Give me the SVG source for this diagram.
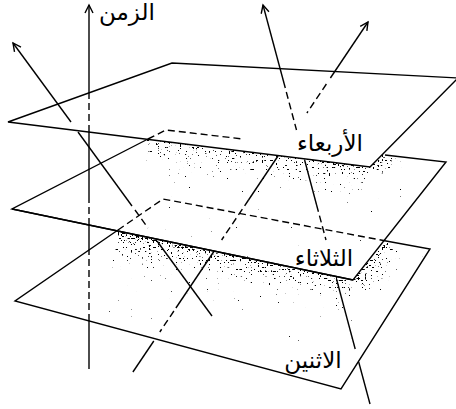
<svg xmlns="http://www.w3.org/2000/svg" width="456" height="409" viewBox="0 0 456 409">
<style>
 .e{fill:none;stroke:#000;stroke-width:1.4}
 .d{stroke-dasharray:7 4}
 .t{font-family:"DejaVu Sans","Noto Sans",sans-serif;font-size:23px;fill:#000;text-anchor:middle}
</style>
<defs>
 <marker id="ah" markerUnits="userSpaceOnUse" refX="0" refY="0" markerWidth="12" markerHeight="12" orient="auto" overflow="visible">
  <path d="M-8,-4 L0,0 L-8,4" fill="none" stroke="#000" stroke-width="1.4"/>
 </marker>
 <linearGradient id="g1a" gradientUnits="userSpaceOnUse" x1="258" y1="152" x2="251" y2="208">
  <stop offset="0" stop-color="#000" stop-opacity="1"/><stop offset="0.08" stop-color="#000" stop-opacity="0.6"/><stop offset="0.35" stop-color="#000" stop-opacity="0.36"/><stop offset="0.7" stop-color="#000" stop-opacity="0.15"/><stop offset="1" stop-color="#000" stop-opacity="0"/>
 </linearGradient>
 <linearGradient id="g1b" gradientUnits="userSpaceOnUse" x1="378" y1="160" x2="402" y2="184">
  <stop offset="0" stop-color="#000" stop-opacity="1"/><stop offset="0.15" stop-color="#000" stop-opacity="0.6"/><stop offset="0.5" stop-color="#000" stop-opacity="0.36"/><stop offset="1" stop-color="#000" stop-opacity="0"/>
 </linearGradient>
 <linearGradient id="g2a" gradientUnits="userSpaceOnUse" x1="236" y1="256" x2="225" y2="316">
  <stop offset="0" stop-color="#000" stop-opacity="1"/><stop offset="0.08" stop-color="#000" stop-opacity="0.62"/><stop offset="0.35" stop-color="#000" stop-opacity="0.36"/><stop offset="0.7" stop-color="#000" stop-opacity="0.15"/><stop offset="1" stop-color="#000" stop-opacity="0"/>
 </linearGradient>
 <linearGradient id="g2b" gradientUnits="userSpaceOnUse" x1="370" y1="260" x2="402" y2="286">
  <stop offset="0" stop-color="#000" stop-opacity="1"/><stop offset="0.15" stop-color="#000" stop-opacity="0.62"/><stop offset="0.5" stop-color="#000" stop-opacity="0.36"/><stop offset="1" stop-color="#000" stop-opacity="0"/>
 </linearGradient>
 <clipPath id="cMid"><polygon points="12,209 166,130 446,162 353,280"/></clipPath>
 <clipPath id="cBot"><polygon points="15,301 163,199 430,249 341,389"/></clipPath>
 <filter id="stip" x="-5%" y="-5%" width="110%" height="110%" color-interpolation-filters="sRGB">
  <feTurbulence type="fractalNoise" baseFrequency="0.55" numOctaves="1" seed="11" result="n"/>
  <feColorMatrix in="n" type="matrix" values="0 0 0 0 0  0 0 0 0 0  0 0 0 0 0  1 0 0 0 0" result="na"/>
  <feComposite in="na" in2="SourceAlpha" operator="arithmetic" k1="0" k2="1" k3="0.25" k4="-0.25" result="c"/>
  <feComponentTransfer in="c"><feFuncA type="linear" slope="25" intercept="-13.6"/></feComponentTransfer>
 </filter>
</defs>

<g id="shadow-tuesday" clip-path="url(#cMid)">
 <g filter="url(#stip)">
  <polygon points="146,139 370,167 362,223 138,195" fill="url(#g1a)"/>
  <polygon points="370,167 392,145 424,177 402,199" fill="url(#g1b)"/>
 </g>
</g>
<g id="shadow-monday" clip-path="url(#cBot)">
 <g filter="url(#stip)">
  <polygon points="118,231 353,280 342,341 107,292" fill="url(#g2a)"/>
  <polygon points="353,280 386,241 418,267 385,306" fill="url(#g2b)"/>
 </g>
</g>

<g id="plane-wednesday">
 <polygon class="e" points="8,122 172,63 458,78 370,167"/>
 <text class="t" x="330" y="151">الأربعاء</text>
</g>
<g id="plane-tuesday">
 <path class="e" d="M148,139 L12,209 L353,280 L446,162 L385,155"/>
 <path class="e" d="M12,209 L353,280" stroke-width="1.9"/>
 <path class="e d" d="M148,139 L166,130 L243,139"/>
 <text class="t" x="324" y="266">الثلاثاء</text>
</g>
<g id="plane-monday">
 <path class="e" d="M118,230 L15,301 L341,389 L430,249 L386,241"/>
 <path class="e d" d="M118,230 L163,199 L386,241"/>
 <text class="t" x="313" y="368">الاثنين</text>
</g>

<g id="connectors">
 <g id="time-axis">
  <path class="e" d="M89,369 L89,321"/>
  <path class="e d" d="M89,321 L89,249"/>
  <path class="e" d="M89,249 L89,225"/>
  <path class="e d" d="M89,225 L89,198"/>
  <path class="e" d="M89,198 L89,132"/>
  <path class="e d" d="M89,132 L89,93"/>
  <path class="e" d="M89,93 L89,5" marker-end="url(#ah)"/>
 </g>
 <g id="line-a">
  <path class="e" d="M71,122 L13,43" marker-end="url(#ah)"/>
  <path class="e" d="M78,132 L132,206"/>
  <path class="e d" d="M135,210 L148,228"/>
  <path class="e" d="M157,241 L212,316"/>
 </g>
 <g id="line-b">
  <path class="e" d="M285.3,88 L263,5" marker-end="url(#ah)"/>
  <path class="e d" d="M286.3,92 L296.5,130"/>
  <path class="e" d="M304.6,160 L316.6,205"/>
  <path class="e d" d="M316.6,205 L326,240"/>
  <path class="e" d="M336.5,279 L355.2,349"/>
  <path class="e" d="M358.7,362 L370,404"/>
 </g>
 <g id="line-c">
  <path class="e" d="M330.4,78 L368,22" marker-end="url(#ah)"/>
  <path class="e d" d="M326.4,84 L306.9,113"/>
  <path class="e" d="M278,156 L248.5,200"/>
  <path class="e d" d="M248.5,200 L221.6,240"/>
  <path class="e" d="M214.2,251 L175.9,308"/>
  <path class="e d" d="M173.9,311 L159.8,332"/>
  <path class="e" d="M153.8,341 L132.9,372"/>
 </g>
</g>
<g id="axis-label">
 <text class="t" x="127" y="20">الزمن</text>
</g>
</svg>
